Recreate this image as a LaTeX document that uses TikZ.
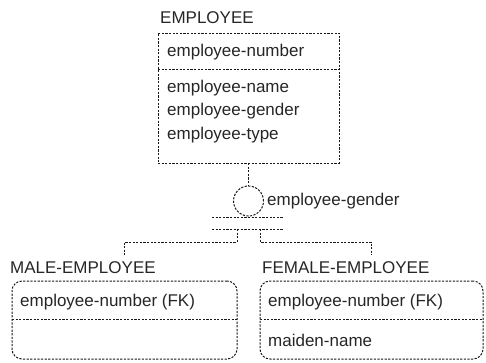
\documentclass[tikz,border=0pt]{standalone}
\usepackage{fontspec}
\setmainfont{Liberation Sans}
\tikzset{
  dline/.style={line width=1pt, dash pattern=on 2.2pt off 1.4pt, black!90},
  entity/.style={dline, draw, inner sep=0pt, outer sep=0pt},
  txt/.style={anchor=west, inner sep=0pt, font=\fontsize{17}{20}\selectfont, text=black!85}
}
\begin{document}
\begin{tikzpicture}[x=1pt, y=-1pt]
  \useasboundingbox (0,0) rectangle (486,362);
  % parent entity
  \node[entity, minimum width=181pt, minimum height=130pt] (employee) at (248.5,98) {};
  \node[txt] (employeename) at (160,18) {EMPLOYEE};
  \draw[dline] ([yshift=-36pt]employee.north west) -- ([yshift=-36pt]employee.north east);
  \node[txt] (k1) at (167,52) {employee-number};
  \node[txt] (a1) at (167,88) {employee-name};
  \node[txt] (a2) at (167,111) {employee-gender};
  \node[txt] (a3) at (167,135) {employee-type};
  % category symbol
  \node[entity, circle, minimum size=30pt] (cat) at (248.5,201) {};
  \node[txt] (catname) at (267,201) {employee-gender};
  \coordinate (b1l) at (212,217);
  \coordinate (b1r) at (283,217);
  \coordinate (b2l) at (212,229);
  \coordinate (b2r) at (283,229);
  \coordinate (lstub) at (237,229);
  \coordinate (rstub) at (260,229);
  % subtype entities
  \node[entity, rounded corners=10pt, minimum width=225pt, minimum height=78pt] (male) at (124.5,320) {};
  \node[entity, rounded corners=10pt, minimum width=223pt, minimum height=78pt] (female) at (371.5,320) {};
  \node[txt] (malename) at (10,268) {MALE-EMPLOYEE};
  \node[txt] (femalename) at (262,268) {FEMALE-EMPLOYEE};
  \draw[dline] ([yshift=-38pt]male.north west) -- ([yshift=-38pt]male.north east);
  \draw[dline] ([yshift=-38pt]female.north west) -- ([yshift=-38pt]female.north east);
  \node[txt] (mk1) at (20,302) {employee-number (FK)};
  \node[txt] (fk1) at (268,302) {employee-number (FK)};
  \node[txt] (fa1) at (268,340) {maiden-name};
  % connectors
  \begin{scope}[dline]
    \draw (employee.south) -- (cat.north);
    \draw (b1l) -- (b1r);
    \draw (b2l) -- (b2r);
    \draw (lstub) -- ++(0,13) -| ([yshift=26pt]male.north);
    \draw (rstub) -- ++(0,13) -| ([yshift=26pt]female.north);
  \end{scope}
\end{tikzpicture}
\end{document}
